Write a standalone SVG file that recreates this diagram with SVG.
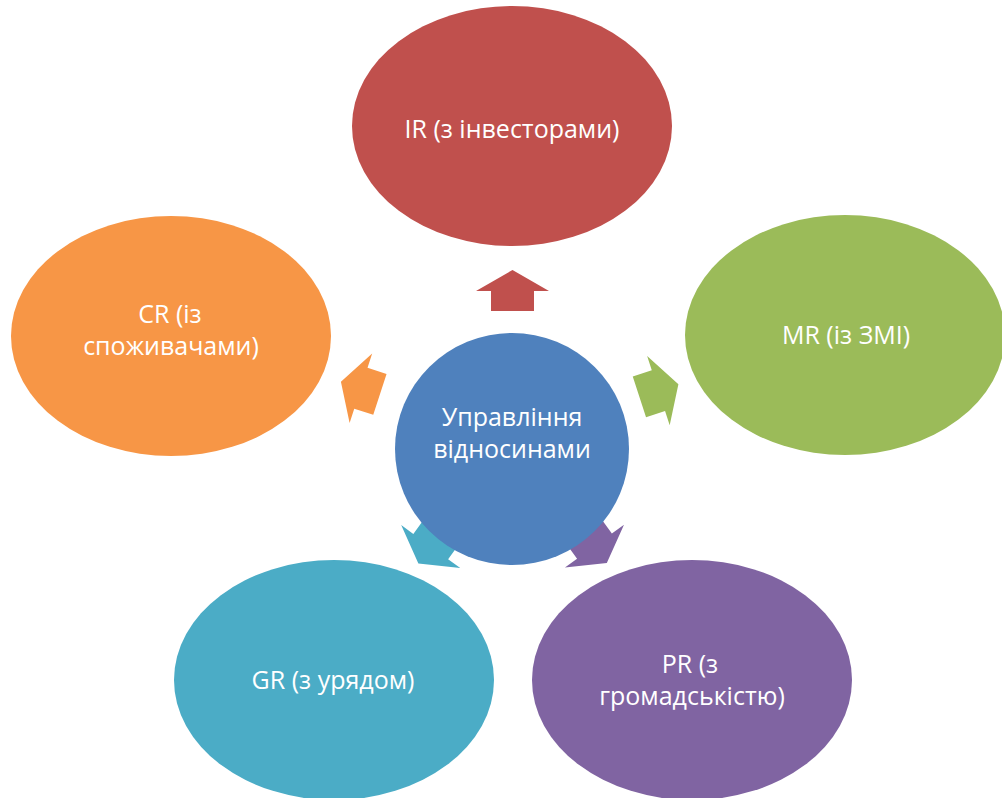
<svg xmlns="http://www.w3.org/2000/svg" width="1002" height="798" viewBox="0 0 1002 798">
<style>
text{font-family:"Open Sans","Noto Sans","Liberation Sans",sans-serif;font-size:25px;fill:#fff;text-anchor:middle}
</style>
<defs>
<polygon id="arr" points="512.5,270 549,291 534,291 534,311 491,311 491,291 476,291"/>
</defs>
<rect width="1002" height="798" fill="#fff"/>
<g id="connectors">
<use href="#arr" fill="#C0504D"/>
<use href="#arr" fill="#9BBB59" transform="translate(-4,-10) rotate(72 512 449)"/>
<use href="#arr" fill="#8064A2" transform="translate(-10,-31) rotate(144 512 449)"/>
<use href="#arr" fill="#4BACC6" transform="translate(12,-30) rotate(-144 512 449)"/>
<use href="#arr" fill="#F79646" transform="translate(-1,-11.5) rotate(-72 512 449)"/>
</g>
<g id="center"><ellipse cx="512" cy="449" rx="117" ry="116" fill="#4F81BD"/><text x="512" y="426">Управління</text><text x="512" y="458">відносинами</text></g>
<g id="ir"><ellipse cx="512" cy="126" rx="160" ry="120" fill="#C0504D"/><text x="512" y="138">IR (з інвесторами)</text></g>
<g id="mr"><ellipse cx="845" cy="335" rx="160" ry="120" fill="#9BBB59"/><text x="846" y="344">MR (із ЗМІ)</text></g>
<g id="pr"><ellipse cx="692" cy="680" rx="160" ry="120" fill="#8064A2"/><text x="690" y="673">PR (з</text><text x="692" y="705">громадськістю)</text></g>
<g id="gr"><ellipse cx="334" cy="680" rx="160" ry="120" fill="#4BACC6"/><text x="333" y="689">GR (з урядом)</text></g>
<g id="cr"><ellipse cx="171" cy="336" rx="160" ry="120" fill="#F79646"/><text x="170" y="323">CR (із</text><text x="171" y="355">споживачами)</text></g>
</svg>
